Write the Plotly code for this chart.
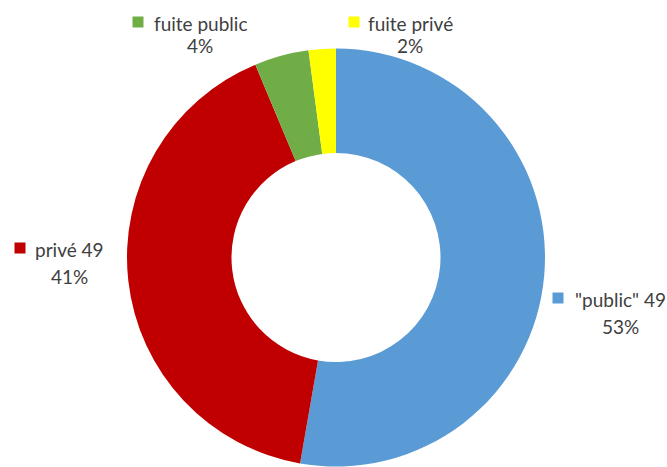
import plotly.graph_objects as go

# Data
categories = ['"public" 49', 'privé 49', 'fuite public', 'fuite privé']
values = [52.7, 40.9, 4.2, 2.1]
colors = ['#5B9BD5', '#C00000', '#70AD47', '#FFFF00']

W, H = 667, 467
total = sum(values)
pct_labels = [f"{round(v / total * 100)}%" for v in values]

# label layout (pixel positions): text center x, line1 y, line2 y, key square center x, key y
label_layout = [
    (620, 299, 326, 557.5, 298),
    (69, 249, 276, 20, 248),
    (200, 23, 46, 137.5, 22),
    (410, 23, 46, 353.5, 22),
]

cx, cy, r = 336, 257.5, 209
fig = go.Figure(go.Pie(
    labels=categories,
    values=values,
    marker=dict(colors=colors, line=dict(width=0)),
    hole=0.5,
    sort=False,
    direction='clockwise',
    rotation=0,
    textinfo='none',
    showlegend=False,
    domain=dict(x=[(cx - r) / W, (cx + r) / W], y=[(H - cy - r) / H, (H - cy + r) / H]),
))

font = dict(family='Lato, Open Sans, sans-serif', size=19, color='#404040')
annotations = []
for cat, pct, col, (tx, y1, y2, kx, ky) in zip(categories, pct_labels, colors, label_layout):
    annotations.append(dict(x=tx / W, y=1 - y1 / H, xref='paper', yref='paper', text=cat,
                            showarrow=False, xanchor='center', yanchor='middle', font=font))
    annotations.append(dict(x=tx / W, y=1 - y2 / H, xref='paper', yref='paper', text=pct,
                            showarrow=False, xanchor='center', yanchor='middle', font=font))
    annotations.append(dict(x=kx / W, y=1 - ky / H, xref='paper', yref='paper', text=' ',
                            showarrow=False, xanchor='center', yanchor='middle',
                            width=10, height=10, bgcolor=col, borderpad=0,
                            font=dict(size=1)))

fig.update_layout(
    width=W, height=H,
    margin=dict(l=0, r=0, t=0, b=0),
    paper_bgcolor='white', plot_bgcolor='white',
    annotations=annotations,
)

fig.write_html("out.html",
               config={'displayModeBar': False},
               post_script="document.body.style.margin='0';document.body.style.overflow='hidden';")
